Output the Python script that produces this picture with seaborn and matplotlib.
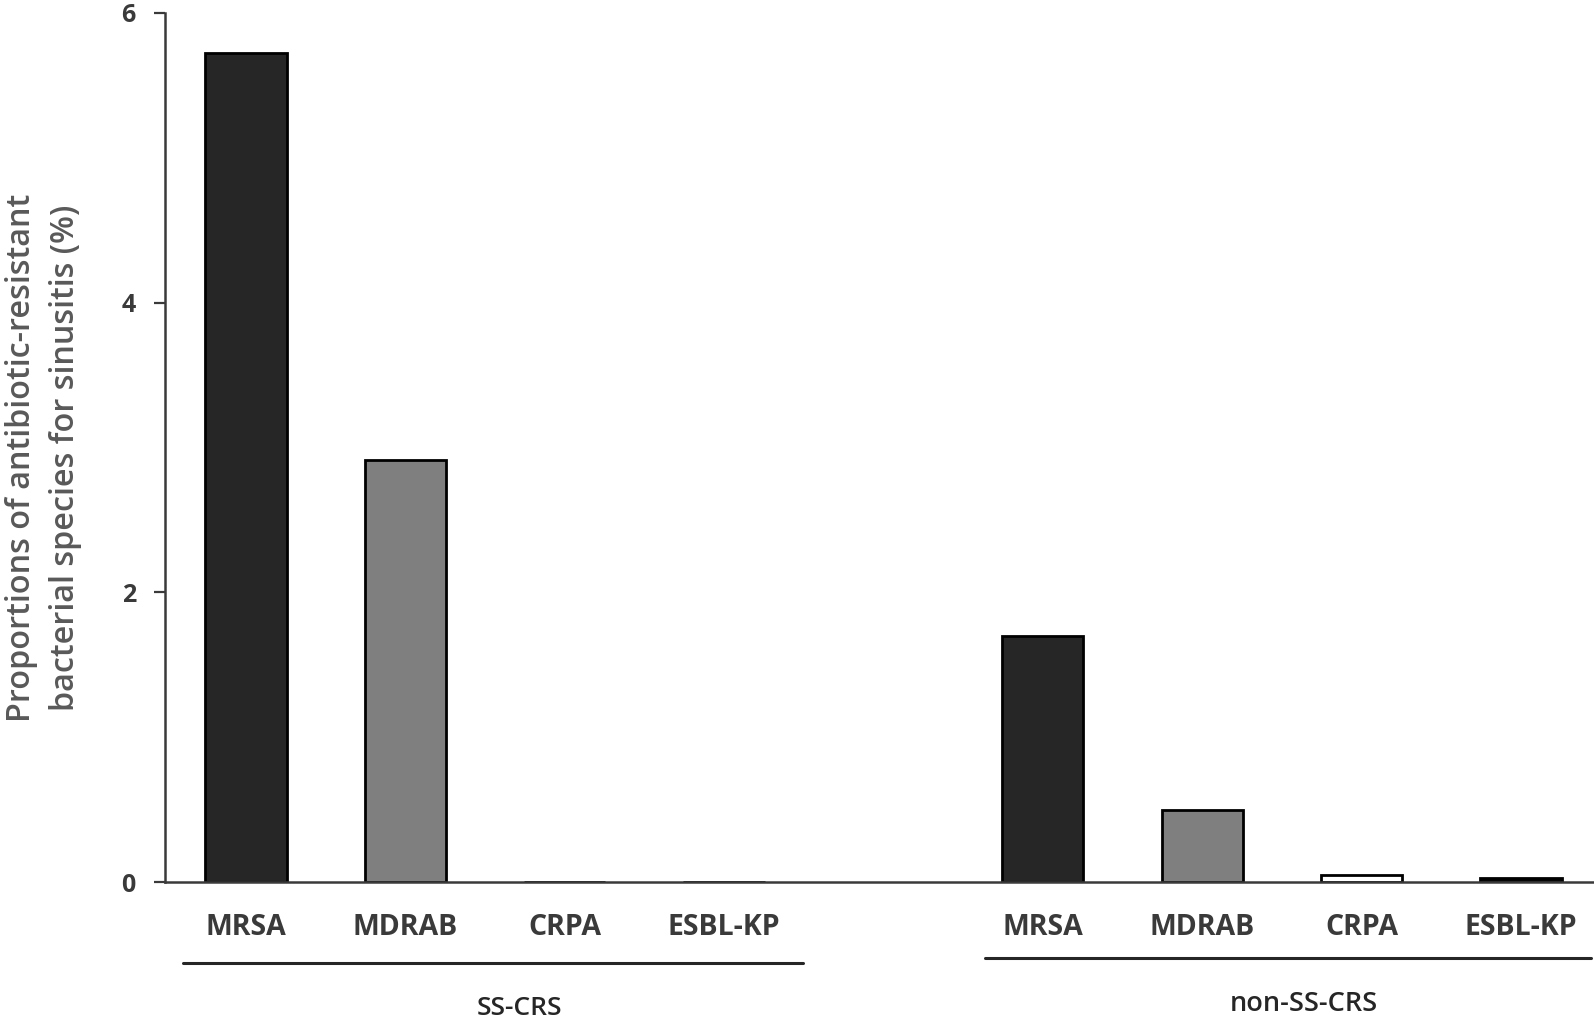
import numpy as np
import pandas as pd
import matplotlib
matplotlib.use("Agg")
import matplotlib.pyplot as plt
import seaborn as sns

# ---- data ----
groups = ["SS-CRS", "non-SS-CRS"]
species = ["MRSA", "MDRAB", "CRPA", "ESBL-KP"]
ss_crs_values = [5.72, 2.91, 0.0, 0.0]
non_ss_crs_values = [1.70, 0.50, 0.05, 0.03]
y_ticks = [0, 2, 4, 6]
y_label = "Proportions of antibiotic-resistant\nbacterial species for sinusitis (%)"

species_colors = {"MRSA": "#262626", "MDRAB": "#7f7f7f", "CRPA": "#ffffff", "ESBL-KP": "#050505"}

sns.set_theme(style="white")
plt.rcParams["font.family"] = ["Open Sans", "DejaVu Sans"]

positions = [0, 1, 2, 3, 5, 6, 7, 8]
df = pd.DataFrame({
    "pos": positions,
    "value": ss_crs_values + non_ss_crs_values,
    "species": species + species,
    "group": [groups[0]] * 4 + [groups[1]] * 4,
})

fig = plt.figure(figsize=(15.94, 10.19), dpi=100)
ax = fig.add_axes([0.1035, 0.1344, 0.8965, 0.8531])

sns.barplot(data=df, x="pos", y="value", hue="species", palette=species_colors,
            native_scale=True, dodge=False, width=0.51, legend=False,
            edgecolor="black", linewidth=2.0, ax=ax, errorbar=None)

ax.set_xlim(-0.508, 8.458)
ax.set_ylim(0, 6)
ax.set_yticks(y_ticks)
ax.set_yticklabels([str(t) for t in y_ticks], fontsize=18, fontweight="bold", color="#3a3a3a")
ax.set_xticks(positions)
ax.set_xticklabels(species + species, fontsize=20.5, fontweight="bold", color="#3a3a3a")
ax.tick_params(axis="x", length=0, pad=22)
ax.tick_params(axis="y", length=8, width=1.6, color="#3a3a3a", pad=13, left=True)

for side in ["top", "right"]:
    ax.spines[side].set_visible(False)
for side in ["left", "bottom"]:
    ax.spines[side].set_color("#3a3a3a")
    ax.spines[side].set_linewidth(1.8)

ax.set_xlabel("")
ax.set_ylabel(y_label, fontsize=23.3, fontweight=600, color="#595959", linespacing=1.45)
ax.yaxis.set_label_coords(-0.058, 0.488)

trans = ax.get_xaxis_transform()
ax.plot([-0.395, 3.495], [-0.093, -0.093], transform=trans, color="#262626", lw=2.2, clip_on=False)
ax.plot([4.64, 8.44], [-0.0875, -0.0875], transform=trans, color="#262626", lw=2.2, clip_on=False)
ax.text(1.713, -0.146, groups[0], transform=trans, ha="center", va="center", fontsize=19,
        fontweight=600, color="#262626")
ax.text(6.64, -0.140, groups[1], transform=trans, ha="center", va="center", fontsize=19.5,
        fontweight=600, color="#262626")

fig.savefig("out.png", dpi=100)
